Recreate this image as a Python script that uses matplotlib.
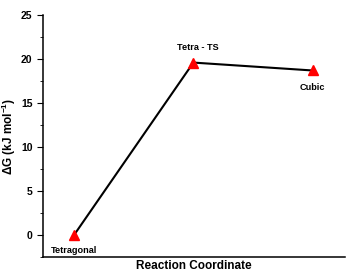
import matplotlib
matplotlib.use('Agg')
import matplotlib.pyplot as plt
from matplotlib.ticker import MultipleLocator

# Energy profile along the reaction coordinate
estados = ['Tetragonal', 'Tetra - TS', 'Cubic']
coord = [1, 2, 3]
delta_g = [0.0, 19.6, 18.7]

plt.rcParams['font.family'] = ['Liberation Sans', 'DejaVu Sans']
plt.rcParams['font.weight'] = 'bold'
plt.rcParams['mathtext.fontset'] = 'custom'
plt.rcParams['mathtext.rm'] = 'Liberation Sans:bold'
plt.rcParams['mathtext.bf'] = 'Liberation Sans:bold'

fig = plt.figure(figsize=(3.47, 2.74), dpi=100)
ax = fig.add_axes([0.124, 0.062, 0.87, 0.883])

ax.plot(coord, delta_g, color='black', linewidth=1.5, zorder=2)
ax.plot(coord, delta_g, linestyle='none', marker='^', markersize=6.5,
        color='red', zorder=3)

# labels for each state
offsets = [(0, -11), (3, 11), (0, -12)]
for x, y, nome, (dx, dy) in zip(coord, delta_g, estados, offsets):
    ax.annotate(nome, (x, y), xytext=(dx, dy), textcoords='offset points',
                ha='center', va='center', fontsize=6.6, fontweight='bold')

ax.set_xlim(0.74, 3.27)
ax.set_ylim(-2.5, 25)
ax.yaxis.set_major_locator(MultipleLocator(5))
ax.yaxis.set_minor_locator(MultipleLocator(2.5))
ax.set_xticks([])

for lado in ['top', 'right']:
    ax.spines[lado].set_visible(False)
ax.spines['left'].set_linewidth(1.1)
ax.spines['bottom'].set_linewidth(1.1)
ax.tick_params(axis='y', which='major', length=4, labelsize=7.5)
ax.tick_params(axis='y', which='minor', length=2)
for t in ax.get_yticklabels():
    t.set_fontweight('bold')

ax.set_ylabel('\u0394G (kJ mol$^{-1}$)', fontsize=8.5, fontweight='bold', labelpad=2)
ax.set_xlabel('Reaction Coordinate', fontsize=8.5, fontweight='bold', labelpad=2)

fig.savefig('out.png', dpi=100)
